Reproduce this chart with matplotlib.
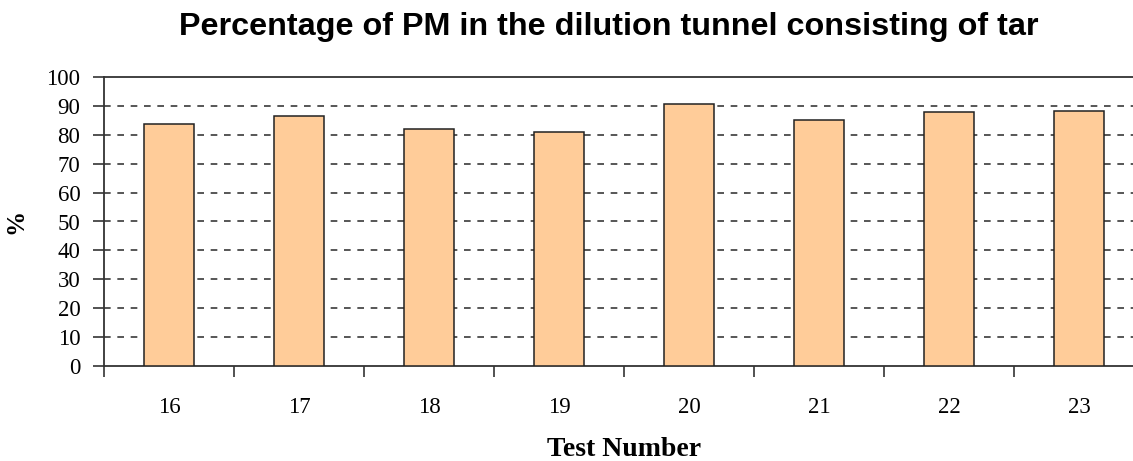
import matplotlib
matplotlib.use('Agg')
import matplotlib.pyplot as plt
import numpy as np

test_numbers = ['16', '17', '18', '19', '20', '21', '22', '23']
tar_percent = [83.8, 86.4, 82.1, 80.8, 90.5, 85.1, 87.9, 88.4]
y_ticks = [0, 10, 20, 30, 40, 50, 60, 70, 80, 90, 100]

fig = plt.figure(figsize=(11.33, 4.61), dpi=100)
# axes goes a little past the right edge, like the original
ax = fig.add_axes([104 / 1133, 1 - 366 / 461, 1040 / 1133, 289 / 461])

x = np.arange(len(test_numbers))
ax.bar(x, tar_percent, width=0.39, color='#FFCC99', edgecolor='#222222', linewidth=1.1, zorder=3)

ax.set_xlim(-0.5, len(test_numbers) - 0.5)
ax.set_ylim(0, 100)
ax.set_yticks(y_ticks)
ax.set_yticklabels([str(v) for v in y_ticks], family='Liberation Serif', fontsize=16.5)

# gridlines, dashed
for v in y_ticks[1:-1]:
    ax.axhline(v, color='#3a3a3a', linestyle=(0, (4, 4)), linewidth=1.2, zorder=1)

# ticks at category boundaries, labels in the middle
ax.set_xticks(np.arange(len(test_numbers) + 1) - 0.5)
ax.set_xticklabels([])
ax.set_xticks(x, minor=True)
ax.set_xticklabels(test_numbers, minor=True, family='Liberation Serif', fontsize=16.5)
ax.tick_params(axis='x', which='major', direction='out', length=8, width=1.2, color='#333333')
ax.tick_params(axis='x', which='minor', length=0, pad=22)
ax.tick_params(axis='y', direction='out', length=8, width=1.2, color='#333333', pad=9)

for s in ['left', 'bottom', 'top']:
    ax.spines[s].set_color('#333333')
    ax.spines[s].set_linewidth(1.3)
ax.spines['right'].set_visible(False)

ax.set_xlabel('Test Number', family='Liberation Serif', fontweight='bold', fontsize=20, labelpad=14)
ax.set_ylabel('%', family='Liberation Serif', fontweight='bold', fontsize=18, labelpad=14)

fig.text(609 / 1133, 1 - 27 / 461, 'Percentage of PM in the dilution tunnel consisting of tar',
         ha='center', va='center', family='Liberation Sans', fontweight='bold', fontsize=23.3)

plt.savefig('out.png', dpi=100)
